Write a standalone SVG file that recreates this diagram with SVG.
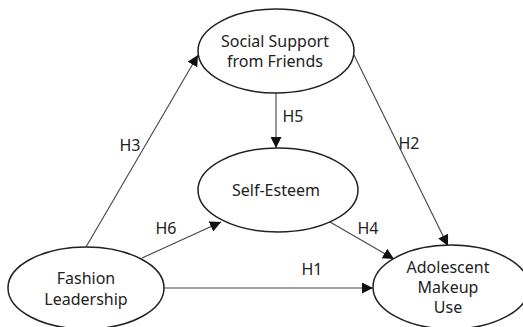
<svg xmlns="http://www.w3.org/2000/svg" width="523" height="327" viewBox="0 0 523 327">
<defs>
<style>
.node ellipse{fill:#fff;stroke:#222;stroke-width:1.5}
text{font-family:"Noto Sans","DejaVu Sans",sans-serif;font-size:16px;fill:#222;text-anchor:middle}
.edges line{stroke:#444;stroke-width:1.1}
</style>
<marker id="arr" viewBox="0 0 10 10" refX="10" refY="5" markerWidth="11" markerHeight="11" markerUnits="userSpaceOnUse" orient="auto">
<path d="M0,0 L10,5 L0,10 z" fill="#111"/>
</marker>
</defs>
<rect width="523" height="327" fill="#fff"/>
<g class="edges">
<line x1="164" y1="288" x2="373" y2="288" marker-end="url(#arr)"/>
<line x1="86" y1="247" x2="198" y2="55" marker-end="url(#arr)"/>
<line x1="142" y1="258" x2="221" y2="222" marker-end="url(#arr)"/>
<line x1="276" y1="93" x2="276" y2="148" marker-end="url(#arr)"/>
<line x1="354" y1="55" x2="448" y2="246" marker-end="url(#arr)"/>
<line x1="330" y1="222" x2="394" y2="259" marker-end="url(#arr)"/>
<text x="312" y="275">H1</text>
<text x="130" y="151">H3</text>
<text x="166" y="234">H6</text>
<text x="293" y="122">H5</text>
<text x="409" y="149">H2</text>
<text x="368" y="234">H4</text>
</g>
<g id="social" class="node">
<ellipse cx="276" cy="51" rx="78" ry="42"/>
<text x="275" y="47">Social Support</text>
<text x="275" y="67">from Friends</text>
</g>
<g id="selfesteem" class="node">
<ellipse cx="278" cy="190" rx="80" ry="42"/>
<text x="276" y="196">Self-Esteem</text>
</g>
<g id="fashion" class="node">
<ellipse cx="86" cy="288" rx="78" ry="41"/>
<text x="86" y="284">Fashion</text>
<text x="86" y="305">Leadership</text>
</g>
<g id="makeup" class="node">
<ellipse cx="451" cy="287" rx="78" ry="42"/>
<text x="448" y="273">Adolescent</text>
<text x="448" y="293">Makeup</text>
<text x="448" y="313">Use</text>
</g>
</svg>
